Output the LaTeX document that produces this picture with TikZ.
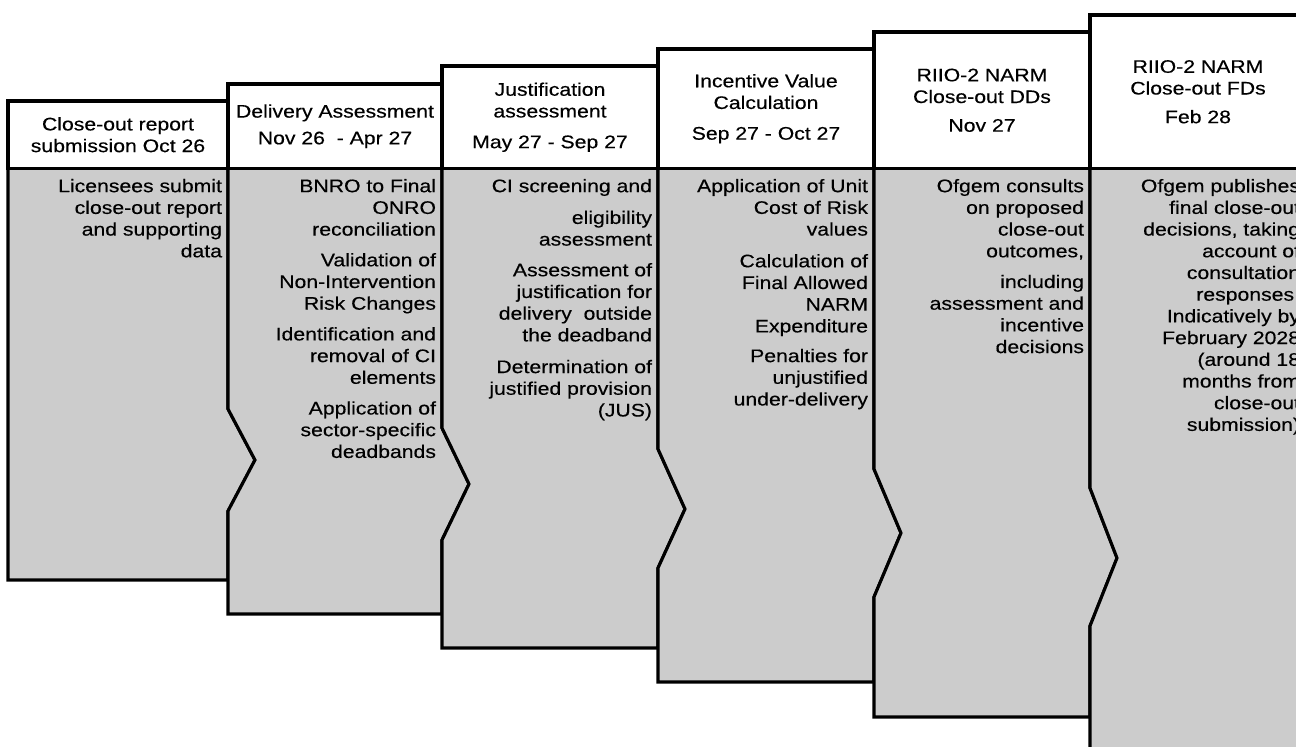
\documentclass[tikz,border=0pt]{standalone}
\usepackage{fontspec}
\setmainfont{Liberation Sans}[FakeStretch=1.165,FakeBold=0.35]
\usetikzlibrary{positioning}
\definecolor{phasegray}{gray}{0.8}

\begin{document}
\begin{tikzpicture}[x=1pt,y=-1pt,line width=3.1pt,
                    font=\fontsize{18.2}{21.7}\selectfont]
	  \tikzstyle{phase}=[fill=phasegray,draw=black]
	  \tikzstyle{head}=[draw=black,fill=white,anchor=north west,inner sep=0pt,outer sep=0pt,align=center]
	  \tikzstyle{body}=[inner sep=0pt,outer sep=0pt,align=right]

	  \useasboundingbox (0,0) rectangle (1296,747);

	  % column 1
	  \draw[phase] (8,168) -- (228,168) -- (228,409) -- (255,460) -- (228,511) -- (228,580) -- (8,580) -- cycle;
	  \node[head, minimum width=220pt, minimum height=67.5pt]  (h1) at (8,101)   {Close-out report\\submission Oct 26};
	  \node[body] (b1) [below left=10.5pt and 6pt of h1.south east] {Licensees submit\\close-out report\\and supporting\\data};

	  % column 2
	  \draw[phase] (228,168) -- (442,168) -- (442,428) -- (469,484) -- (442,540) -- (442,614) -- (228,614) -- (228,511) -- (255,460) -- (228,409) -- cycle;
	  \node[head, minimum width=214pt, minimum height=84.5pt]  (h2) at (228,84)  {Delivery Assessment\\[5pt]Nov 26\ \ - Apr 27};
	  \node[body] (b2) [below left=10.5pt and 6pt of h2.south east] {BNRO to Final\\ONRO\\reconciliation\\[9pt]Validation of\\Non-Intervention\\Risk Changes\\[9pt]Identification and\\removal of CI\\elements\\[9pt]Application of\\sector-specific\\deadbands};

	  % column 3
	  \draw[phase] (442,168) -- (658,168) -- (658,449) -- (685,509) -- (658,568) -- (658,648) -- (442,648) -- (442,540) -- (469,484) -- (442,428) -- cycle;
	  \node[head, minimum width=216pt, minimum height=102.5pt] (h3) at (442,66)  {Justification\\assessment\\[9pt]May 27 - Sep 27};
	  \node[body] (b3) [below left=10.5pt and 6pt of h3.south east] {CI screening and\\[10pt]eligibility\\assessment\\[9pt]Assessment of\\justification for\\delivery\ \ outside\\the deadband\\[10pt]Determination of\\justified provision\\(JUS)};

	  % column 4
	  \draw[phase] (658,168) -- (874,168) -- (874,469) -- (901,533) -- (874,597) -- (874,682) -- (658,682) -- (658,568) -- (685,509) -- (658,449) -- cycle;
	  \node[head, minimum width=216pt, minimum height=119.5pt] (h4) at (658,49)  {Incentive Value\\Calculation\\[9pt]Sep 27 - Oct 27};
	  \node[body] (b4) [below left=10.5pt and 6pt of h4.south east] {Application of Unit\\Cost of Risk\\values\\[10pt]Calculation of\\Final Allowed\\NARM\\Expenditure\\[8pt]Penalties for\\unjustified\\under-delivery};

	  % column 5
	  \draw[phase] (874,168) -- (1090,168) -- (1090,488) -- (1117,558) -- (1090,626) -- (1090,717) -- (874,717) -- (874,597) -- (901,533) -- (874,469) -- cycle;
	  \node[head, minimum width=216pt, minimum height=136.5pt] (h5) at (874,32)  {RIIO-2 NARM\\Close-out DDs\\[7pt]Nov 27};
	  \node[body] (b5) [below left=10.5pt and 6pt of h5.south east] {Ofgem consults\\on proposed\\close-out\\outcomes,\\[9pt]including\\assessment and\\incentive\\decisions};

	  % column 6
	  \draw[phase] (1090,168) -- (1306,168) -- (1306,770) -- (1090,770) -- (1090,626) -- (1117,558) -- (1090,488) -- cycle;
	  \node[head, minimum width=216pt, minimum height=153.5pt] (h6) at (1090,15) {RIIO-2 NARM\\Close-out FDs\\[7pt]Feb 28};
	  \node[body] (b6) [below left=10.5pt and 6pt of h6.south east] {Ofgem publishes\\final close-out\\decisions, taking\\account of\\consultation\\responses.\\Indicatively by\\February 2028\\(around 18\\months from\\close-out\\submission)};
\end{tikzpicture}
\end{document}
